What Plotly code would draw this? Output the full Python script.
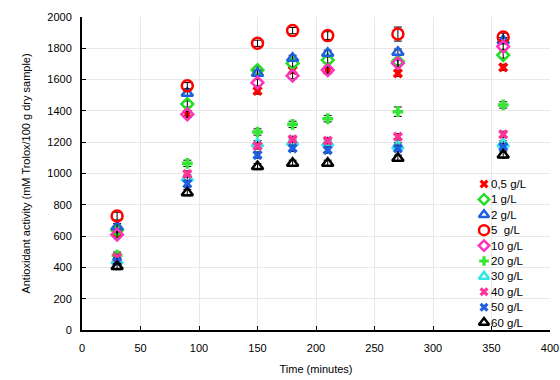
import plotly.graph_objects as go

times = [30, 90, 150, 180, 210, 270, 360]
names = ["0,5 g/L", "1 g/L", "2 g/L", "5\u00a0 g/L", "10 g/L", "20 g/L", "30 g/L", "40 g/L", "50 g/L", "60 g/L"]
v_05 = [620, 1380, 1527, 1660, 1660, 1640, 1678]
v_1 = [639, 1444, 1661, 1704, 1725, 1715, 1757]
v_2 = [660, 1512, 1641, 1736, 1768, 1775, 1849]
v_5 = [728, 1561, 1832, 1913, 1881, 1891, 1872]
v_10 = [609, 1378, 1580, 1625, 1661, 1705, 1811]
v_20 = [478, 1065, 1265, 1314, 1350, 1395, 1438]
v_30 = [443, 971, 1190, 1200, 1195, 1176, 1188]
v_40 = [464, 997, 1176, 1218, 1210, 1235, 1250]
v_50 = [437, 935, 1118, 1161, 1150, 1160, 1171]
v_60 = [405, 877, 1044, 1065, 1065, 1097, 1118]
err_05 = [20, 20, 20, 20, 20, 20, 20]
err_1 = [20, 20, 20, 20, 20, 20, 20]
err_2 = [20, 20, 20, 20, 20, 20, 20]
err_5 = [25, 20, 20, 20, 25, 45, 25]
err_10 = [20, 20, 20, 20, 20, 20, 20]
err_20 = [20, 20, 20, 20, 20, 30, 20]
err_30 = [20, 20, 20, 20, 20, 20, 20]
err_40 = [20, 20, 20, 20, 20, 20, 20]
err_50 = [20, 20, 20, 20, 20, 20, 20]
err_60 = [20, 20, 20, 20, 20, 20, 20]

series = [v_05, v_1, v_2, v_5, v_10, v_20, v_30, v_40, v_50, v_60]
errs = [err_05, err_1, err_2, err_5, err_10, err_20, err_30, err_40, err_50, err_60]
colors = ["#FF0000", "#22DD22", "#1F5FE0", "#FF0000", "#FF33BB", "#33E633", "#33E6E6", "#FF3399", "#1F5FE0", "#000000"]
symbols = ["x", "diamond-open", "triangle-up-open", "circle-open", "diamond-open", "cross", "triangle-up-open", "x", "x", "triangle-up-open"]
sizes = [9, 9, 10, 11, 9, 9, 10, 9, 9, 10]

fig = go.Figure()
for nm, vals, er, c, s, sz in zip(names, series, errs, colors, symbols, sizes):
    open_ = s.endswith("open")
    fig.add_trace(go.Scatter(
        x=times, y=vals, mode="markers", name=nm, showlegend=False,
        error_y=dict(type="data", array=er, color="black", thickness=1, width=4),
        marker=dict(symbol=s, size=sz, color=c,
                    line=dict(color=c, width=2.5 if open_ else 0)),
    ))

# custom compact legend (inside plot, lower right), drawn on a hidden overlay axis in plot fractions
plot_w, plot_h = 468, 313
leg_x = (484 - 82) / plot_w
txt_x = (489 - 82) / plot_w
leg_top = 184
leg_step = 15.4
for i, (nm, c, s, sz) in enumerate(zip(names, colors, symbols, sizes)):
    open_ = s.endswith("open")
    yf = (330 - (leg_top + leg_step * i)) / plot_h
    fig.add_trace(go.Scatter(
        x=[leg_x], y=[yf], xaxis="x2", yaxis="y2", mode="markers", showlegend=False,
        hoverinfo="skip",
        marker=dict(symbol=s, size=sz - 1, color=c, line=dict(color=c, width=2.5 if open_ else 0)),
    ))
    fig.add_annotation(x=txt_x, y=yf, xref="x2", yref="y2", text=nm, showarrow=False,
                       xanchor="left", yanchor="middle", font=dict(size=11.5, color="black"))

fig.update_layout(
    width=560, height=380,
    margin=dict(l=82, r=10, t=17, b=50),
    paper_bgcolor="white", plot_bgcolor="white",
    font=dict(family="Liberation Sans, Arial, sans-serif", size=11, color="black"),
    showlegend=False,
    xaxis=dict(range=[0, 400], dtick=50, showgrid=True, gridcolor="#E8E8E8", automargin=False,
               showline=True, linecolor="black", linewidth=2, ticks="inside", ticklen=4,
               tickcolor="black", zeroline=False, mirror=False, ticklabelstandoff=7,
               title=dict(text="Time (minutes)", standoff=12, font=dict(size=11))),
    yaxis=dict(range=[0, 2000], dtick=200, showgrid=True, gridcolor="#E8E8E8", automargin=False,
               showline=True, linecolor="black", linewidth=2, ticks="inside", ticklen=4,
               tickcolor="black", zeroline=False, ticklabelstandoff=6,
               title=dict(text="Antioxidant activity (mM Trolox/100 g dry sample)", standoff=14, font=dict(size=11))),
    xaxis2=dict(range=[0, 1], overlaying="x", visible=False, fixedrange=True),
    yaxis2=dict(range=[0, 1], overlaying="y", visible=False, fixedrange=True),
)

fig.write_html("out.html")
